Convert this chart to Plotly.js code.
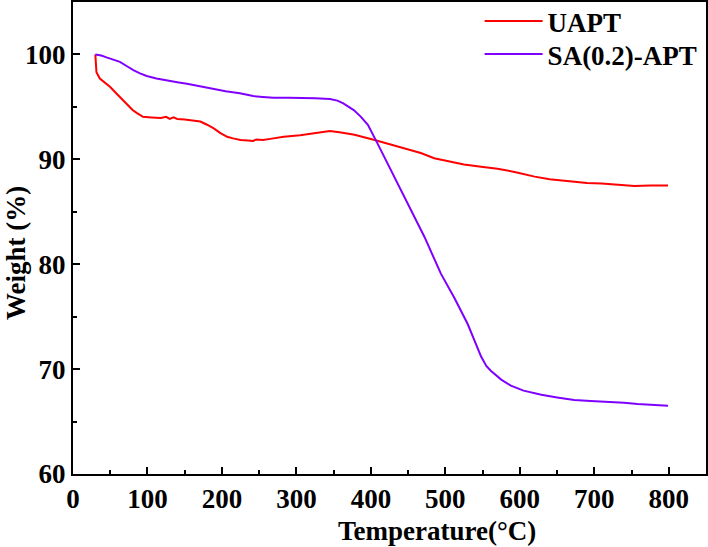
<!DOCTYPE html>
<html>
<head>
<meta charset="utf-8">
<script src="https://cdn.plot.ly/plotly-3.0.1.min.js"></script>
<style>html,body{margin:0;padding:0;background:#fff;}#chart{width:708px;height:547px;}</style>
</head>
<body>
<div id="chart"></div>
<script>
const uaptT = [30,30.5,31.5,36,44,50,58,65,72,80,86,94,105,118,125,130,135,140,150,160,171,180,189,198,207,215,225,235,242,246,255,265,283,305,328,345,360,378,405,436,467,485,503,525,548,570,593,620,640,664,690,710,735,754,775,799];
const uaptW = [100,99,98.3,97.7,97.2,96.9,96.3,95.8,95.3,94.7,94.4,94.05,94.0,93.95,94.05,93.85,94.0,93.85,93.8,93.7,93.6,93.3,92.95,92.5,92.15,92.0,91.85,91.8,91.75,91.9,91.85,91.95,92.15,92.3,92.5,92.7,92.55,92.35,91.85,91.2,90.6,90.1,89.8,89.5,89.3,89.1,88.8,88.35,88.1,87.9,87.75,87.7,87.55,87.45,87.5,87.5];
const saT = [30,38,45,55,63,72,81,90,99,112,126,140,153,170,189,205,224,242,255,269,290,305,325,345,355,363,370,377,386,396,409,427,449,472,494,512,530,540,548,555,561,575,588,605,629,650,673,695,718,740,758,780,799];
const saW = [100,99.9,99.72,99.5,99.3,98.9,98.5,98.2,97.95,97.7,97.5,97.35,97.2,96.95,96.67,96.5,96.3,96.03,95.95,95.87,95.87,95.87,95.82,95.75,95.6,95.34,95.0,94.7,94.1,93.3,91.5,89.0,85.8,82.6,79.1,76.8,74.3,72.6,71.2,70.3,69.85,69.0,68.42,67.95,67.56,67.3,67.05,66.95,66.9,66.8,66.67,66.6,66.5];
const seriesNames = ['UAPT','SA(0.2)-APT'];
const xTitle = 'Temperature(°C)';
const yTitle = 'Weight (%)';

const FONT = '"Times New Roman", "Liberation Serif", serif';
const traces = [
  {x: uaptT, y: uaptW, name: seriesNames[0], type: 'scatter', mode: 'lines', line: {color: '#FF0000', width: 2}, legend: 'legend'},
  {x: saT, y: saW, name: seriesNames[1], type: 'scatter', mode: 'lines', line: {color: '#8000FF', width: 2}, legend: 'legend2'}
];
const axisCommon = {
  showline: true, linecolor: '#000', linewidth: 2, mirror: true,
  ticks: 'inside', ticklen: 7, tickwidth: 2, tickcolor: '#000',
  showgrid: false, zeroline: false, automargin: false,
  tickfont: {family: FONT, size: 27, color: '#000', weight: 'bold'}
};
const legFont = {family: FONT, size: 27, color: '#000', weight: 'bold'};
const layout = {
  width: 708, height: 547,
  margin: {l: 73, r: 2, t: 2, b: 73, autoexpand: false},
  paper_bgcolor: '#fff', plot_bgcolor: '#fff',
  showlegend: true,
  legend: {x: 0.655 - 8/633, y: (474-21.5)/472, xanchor: 'left', yanchor: 'middle', bgcolor: 'rgba(0,0,0,0)', font: legFont, itemwidth: 58},
  legend2: {x: 0.655 - 8/633, y: (474-54.5)/472, xanchor: 'left', yanchor: 'middle', bgcolor: 'rgba(0,0,0,0)', font: legFont, itemwidth: 58},
  xaxis: Object.assign({}, axisCommon, {range: [0, 850], tickvals: [0,100,200,300,400,500,600,700,800],
    minor: {tickvals: [50,150,250,350,450,550,650,750], ticklen: 4, tickwidth: 2, tickcolor: '#000', ticks: 'inside'}}),
  yaxis: Object.assign({}, axisCommon, {range: [60, 105], tickvals: [60,70,80,90,100],
    minor: {tickvals: [65,75,85,95], ticklen: 4, tickwidth: 2, tickcolor: '#000', ticks: 'inside'}}),
  annotations: [
    {text: xTitle, xref: 'paper', yref: 'paper', x: (437-73)/633, y: -(531-474)/472, xanchor: 'center', yanchor: 'middle', showarrow: false,
     font: {family: FONT, size: 27, color: '#000', weight: 'bold'}},
    {text: yTitle, xref: 'paper', yref: 'paper', x: -(73-16)/633, y: (474-253)/472, xanchor: 'center', yanchor: 'middle', showarrow: false, textangle: -90,
     font: {family: FONT, size: 27, color: '#000', weight: 'bold'}}
  ]
};
Plotly.newPlot('chart', traces, layout, {staticPlot: true, displayModeBar: false});
</script>
</body>
</html>
